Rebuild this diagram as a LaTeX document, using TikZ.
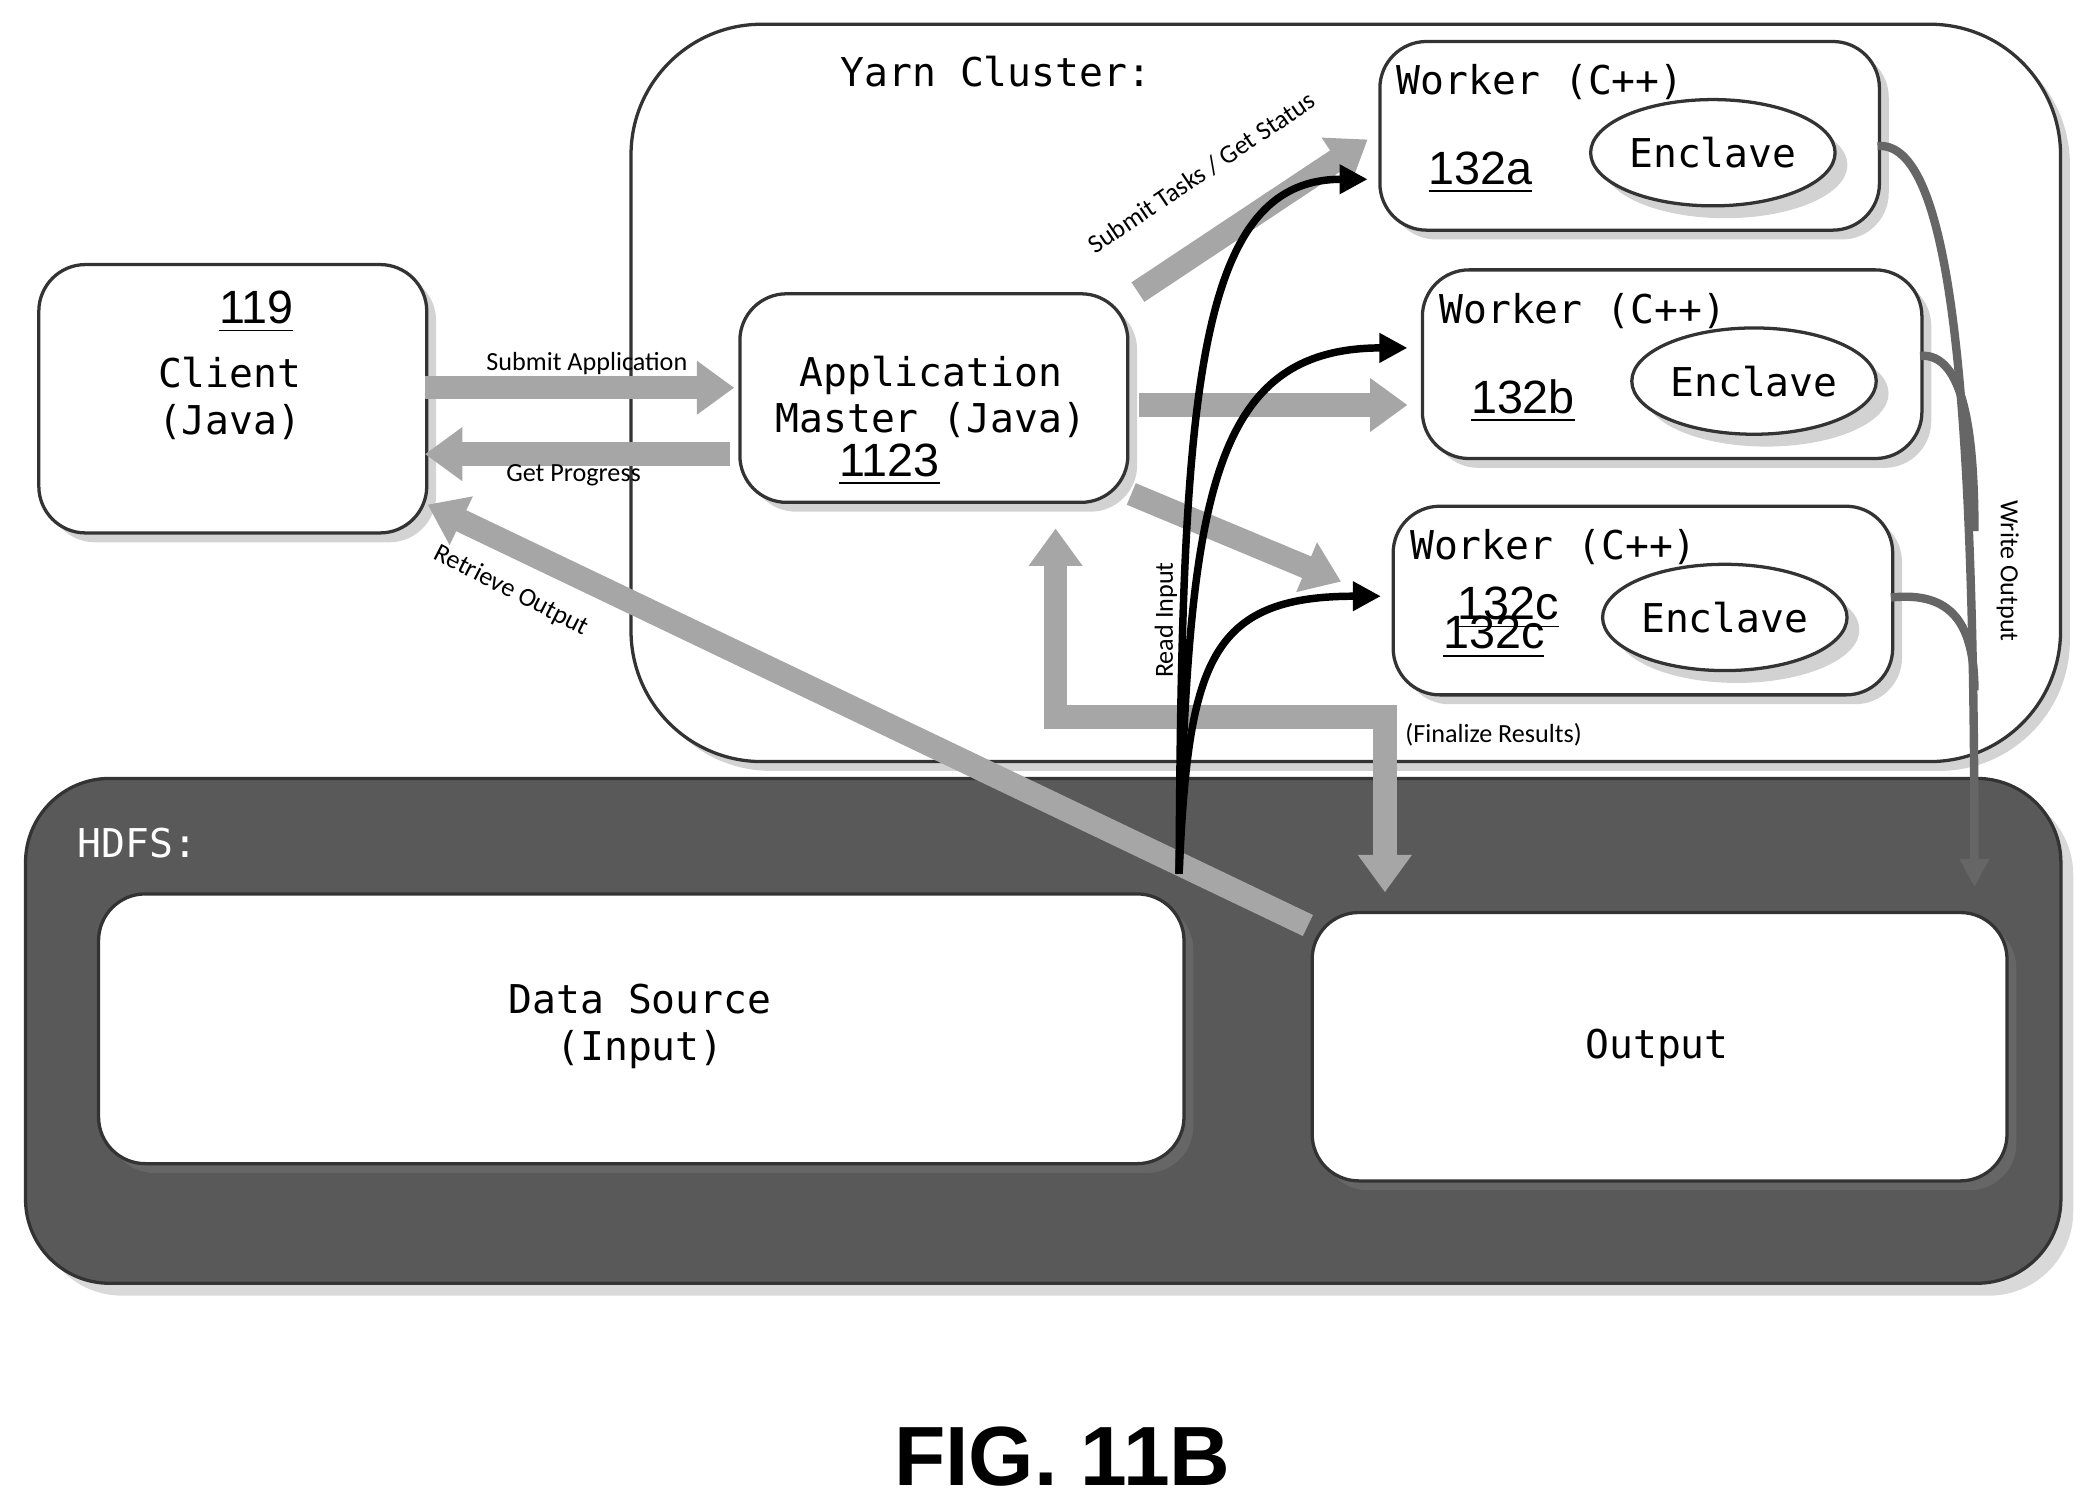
\documentclass[tikz,border=0pt]{standalone}
\usepackage{fontspec}
\setmainfont{Liberation Sans}
\newfontfamily\mymono{DejaVu Sans Mono}
\newfontfamily\mycal{Carlito}
\usetikzlibrary{arrows.meta,shadows,shapes.geometric}
\begin{document}
\begin{tikzpicture}[x=0.01cm,y=-0.01cm,
 box/.style={draw=black!80,line width=0.7pt,fill=white,rounded corners=10pt,drop shadow={opacity=0.35,shadow xshift=2pt,shadow yshift=-2pt}},
 mt/.style={font=\mymono\fontsize{8.5}{10}\selectfont},
 num/.style={font=\fontsize{10}{12}\selectfont},
 lab/.style={font=\mycal\fontsize{5.6}{7}\selectfont},
 garr/.style={draw=black!35,line width=5pt,-{Triangle[length=8pt,width=11pt]}},
 barr/.style={draw=black,line width=1.6pt,-{Triangle[length=6pt,width=6pt]}},
 warr/.style={draw=black!60,line width=1.8pt,-{Triangle[length=6pt,width=6pt]}}]
\useasboundingbox (0,0) rectangle (1568,1132);
\node[box,rounded corners=28pt,minimum width=10.76cm,minimum height=5.55cm,anchor=north west,inner sep=0] (yarn) at (474,17) {};
\node[mt,anchor=center] (yt) at (750,54) {Yarn Cluster:};
\node[draw=black!80,line width=0.7pt,fill=black!65,rounded corners=18pt,minimum width=15.32cm,minimum height=3.8cm,anchor=north west,inner sep=0,drop shadow={opacity=0.3}] (hdfs) at (18,585) {};
\node[mt,text=white,anchor=west] (ht) at (46,635) {HDFS:};
\node[box,minimum width=8.17cm,minimum height=2.03cm,anchor=north west,inner sep=0] (ds) at (73,672) {};
\node[mt,align=center] (dst) at (482,773) {Data Source\\(Input)};
\node[box,minimum width=5.23cm,minimum height=2.02cm,anchor=north west,inner sep=0] (out) at (987,686) {};
\node[mt] (ot) at (1248,789) {Output};
\node[box,minimum width=2.92cm,minimum height=2.02cm,anchor=north west,inner sep=0] (cl) at (28,198) {};
\node[num] (n119) at (193,235) {\underline{119}};
\node[mt,align=center] (clt) at (173,300) {Client\\(Java)};
\node[box,minimum width=2.92cm,minimum height=1.57cm,anchor=north west,inner sep=0] (am) at (556,220) {};
\node[mt,align=center] (amt) at (701,299) {Application\\Master (Java)};
\node[num] (n1123) at (670,350) {\underline{1123}};
\foreach \n/\x/\y/\lx/\num/\ex/\ey in {a/1038/30/1160/132a/1290/115, b/1070/202/1192/132b/1321/287, c/1048/380/1170/132c/1299/465}{
 \node[box,minimum width=3.76cm,minimum height=1.42cm,anchor=north west,inner sep=0] (w\n) at (\x,\y) {};
 \node[mt] (wt\n) at (\lx,\y+32) {Worker (C++)};
 \node[draw=black!80,line width=0.7pt,fill=white,ellipse,minimum width=1.84cm,minimum height=0.8cm,drop shadow={opacity=0.35}] (e\n) at (\ex,\ey) {};
 \node[mt] (et\n) at (\ex,\ey) {Enclave};
 \node[num] (wn\n) at (\x+77,\y+100) {\underline{\num}};
}
\node[num] at (1136,458) {\underline{132c}};
% gray arrows
\coordinate (s1) at (320,292); \coordinate (s2) at (553,292);
\draw[garr] (s1) -- (s2);
\node[lab] (sal) at (442,274) {Submit Application};
\coordinate (g1) at (550,342); \coordinate (g2) at (320,342);
\draw[garr] (g1) -- (g2);
\node[lab] (gpl) at (432,358) {Get Progress};
\coordinate (r1) at (985,697); \coordinate (r2) at (322,380);
\draw[garr] (r1) -- (r2);
\node[lab,rotate=-27] (rol) at (385,445) {Retrieve Output};
\coordinate (t1) at (857,220); \coordinate (t2) at (1030,105);
\draw[garr] (t1) -- (t2);
\node[lab,rotate=34] (tl) at (905,130) {Submit Tasks / Get Status};
\coordinate (m1) at (858,305); \coordinate (m2) at (1060,305);
\draw[garr] (m1) -- (m2);
\coordinate (l1) at (852,372); \coordinate (l2) at (1010,438);
\draw[garr] (l1) -- (l2);
\coordinate (f1) at (795,398); \coordinate (f2) at (1043,672);
\draw[garr,{Triangle[length=8pt,width=11pt]}-{Triangle[length=8pt,width=11pt]}] (f1) -- (795,540) -- (1043,540) -- (f2);
\node[lab,anchor=west] (fl) at (1046,553) {(Finalize Results)};
% black read arrows
\coordinate (ri) at (888,658);
\draw[barr] (ri) .. controls (890,300) and (900,135) .. (1030,135);
\draw[barr] (ri) .. controls (895,380) and (910,262) .. (1060,262);
\draw[barr] (ri) .. controls (895,500) and (910,449) .. (1040,449);
\node[lab,rotate=90] (ril) at (878,467) {Read Input};
% write output
\coordinate (wo) at (1487,668);
\draw[warr] (1414,110) .. controls (1470,105) and (1487,300) .. (wo);
\draw[draw=black!60,line width=1.8pt] (1446,268) .. controls (1480,265) and (1487,330) .. (1487,400);
\draw[draw=black!60,line width=1.8pt] (1424,450) .. controls (1470,445) and (1487,470) .. (1487,520);
\node[lab,rotate=-90] (wol) at (1512,430) {Write Output};
\node[font=\bfseries\fontsize{18}{20}\selectfont] (fig) at (800,1097) {FIG. 11B};
\end{tikzpicture}
\end{document}
